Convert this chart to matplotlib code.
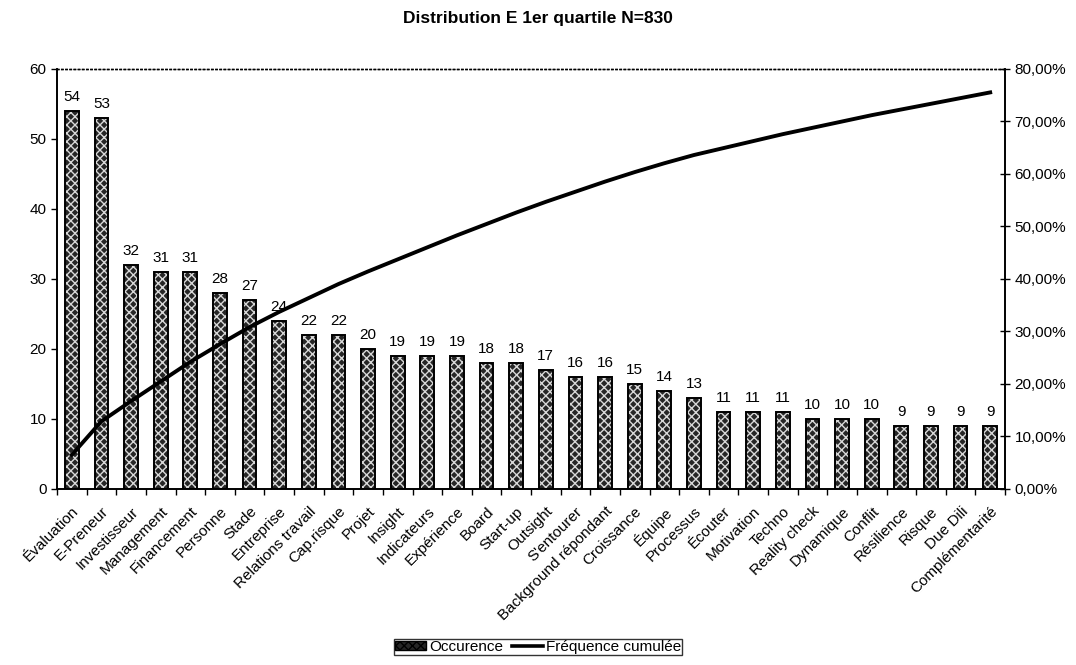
import matplotlib
matplotlib.use("Agg")
import matplotlib.pyplot as plt
from matplotlib.ticker import FuncFormatter, FixedLocator
from matplotlib.patches import Patch
from matplotlib.lines import Line2D
import numpy as np

plt.rcParams['font.family'] = ['Liberation Sans', 'DejaVu Sans']
plt.rcParams['hatch.linewidth'] = 1.0

title = "Distribution E 1er quartile N=830"
N = 830
categories = ["Évaluation", "E-Preneur", "Investisseur", "Management", "Financement",
              "Personne", "Stade", "Entreprise", "Relations travail", "Cap.risque",
              "Projet", "Insight", "Indicateurs", "Expérience", "Board", "Start-up",
              "Outsight", "S'entourer", "Background répondant", "Croissance", "Équipe",
              "Processus", "Écouter", "Motivation", "Techno", "Reality check",
              "Dynamique", "Conflit", "Résilience", "Risque", "Due Dili",
              "Complémentarité"]
occurrences = [54, 53, 32, 31, 31, 28, 27, 24, 22, 22, 20, 19, 19, 19, 18, 18,
               17, 16, 16, 15, 14, 13, 11, 11, 11, 10, 10, 10, 9, 9, 9, 9]

cumulative = np.cumsum(occurrences) / N * 100

fig = plt.figure(figsize=(10.76, 6.65), dpi=100)
ax = fig.add_axes([57/1076, 1 - 489/665, 948/1076, 420/665])
ax2 = ax.twinx()

fs = 11
x = np.arange(len(categories))
width = 0.46
bar_fill = '#262626'
ax.bar(x, occurrences, width, color=bar_fill, edgecolor='#d8d8d8', hatch='xxxx',
       linewidth=0, zorder=2)
ax.bar(x, occurrences, width, fill=False, edgecolor='black', linewidth=1.4, zorder=3)

for xi, v in zip(x, occurrences):
    ax.text(xi, v + 1.0, str(v), ha='center', va='bottom', fontsize=fs)

ax.set_xlim(-0.5, len(categories) - 0.5)
ax.set_ylim(0, 60)
ax.set_yticks(range(0, 61, 10))
ax.tick_params(axis='y', direction='out', length=4, labelsize=fs, width=1)
ax.set_xticks(x)
ax.set_xticklabels(categories, rotation=45, ha='right', rotation_mode='anchor',
                   fontsize=fs)
ax.tick_params(axis='x', length=0, pad=11)
ax.xaxis.set_minor_locator(FixedLocator(np.arange(-0.5, len(categories), 1.0)))
ax.tick_params(axis='x', which='minor', direction='out', length=4, width=1)

ax2.plot(x, cumulative, color='black', linewidth=2.8, zorder=4)
ax2.set_ylim(0, 80)
ax2.set_yticks(range(0, 81, 10))
ax2.yaxis.set_major_formatter(FuncFormatter(lambda v, p: f"{v:.2f}%".replace('.', ',')))
ax2.tick_params(axis='y', direction='inout', length=7, labelsize=fs, width=1)

for a in (ax, ax2):
    a.spines['top'].set_linestyle((0, (1, 2)))
    a.spines['top'].set_linewidth(1)
    a.spines['left'].set_linewidth(1.2)
    a.spines['right'].set_linewidth(1.2)
    a.spines['bottom'].set_linewidth(1.2)
ax.set_zorder(ax2.get_zorder() - 1)
ax2.patch.set_visible(False)

fig.text(0.5, 1 - 19/665, title, ha='center', va='center', fontsize=12.5,
         fontweight='bold')

handles = [Patch(facecolor=bar_fill, edgecolor='black', hatch='xxxx', linewidth=1),
           Line2D([0], [0], color='black', linewidth=2.6)]
fig.legend(handles, ["Occurence", "Fréquence cumulée"], loc='center',
           bbox_to_anchor=(0.5, 1 - 647/665), ncol=2, frameon=True,
           fancybox=False, edgecolor='black', fontsize=fs, handlelength=2.0,
           handleheight=0.6, handletextpad=0.2, columnspacing=0.6,
           borderpad=0.05, borderaxespad=0)

fig.savefig("out.png", dpi=100)
